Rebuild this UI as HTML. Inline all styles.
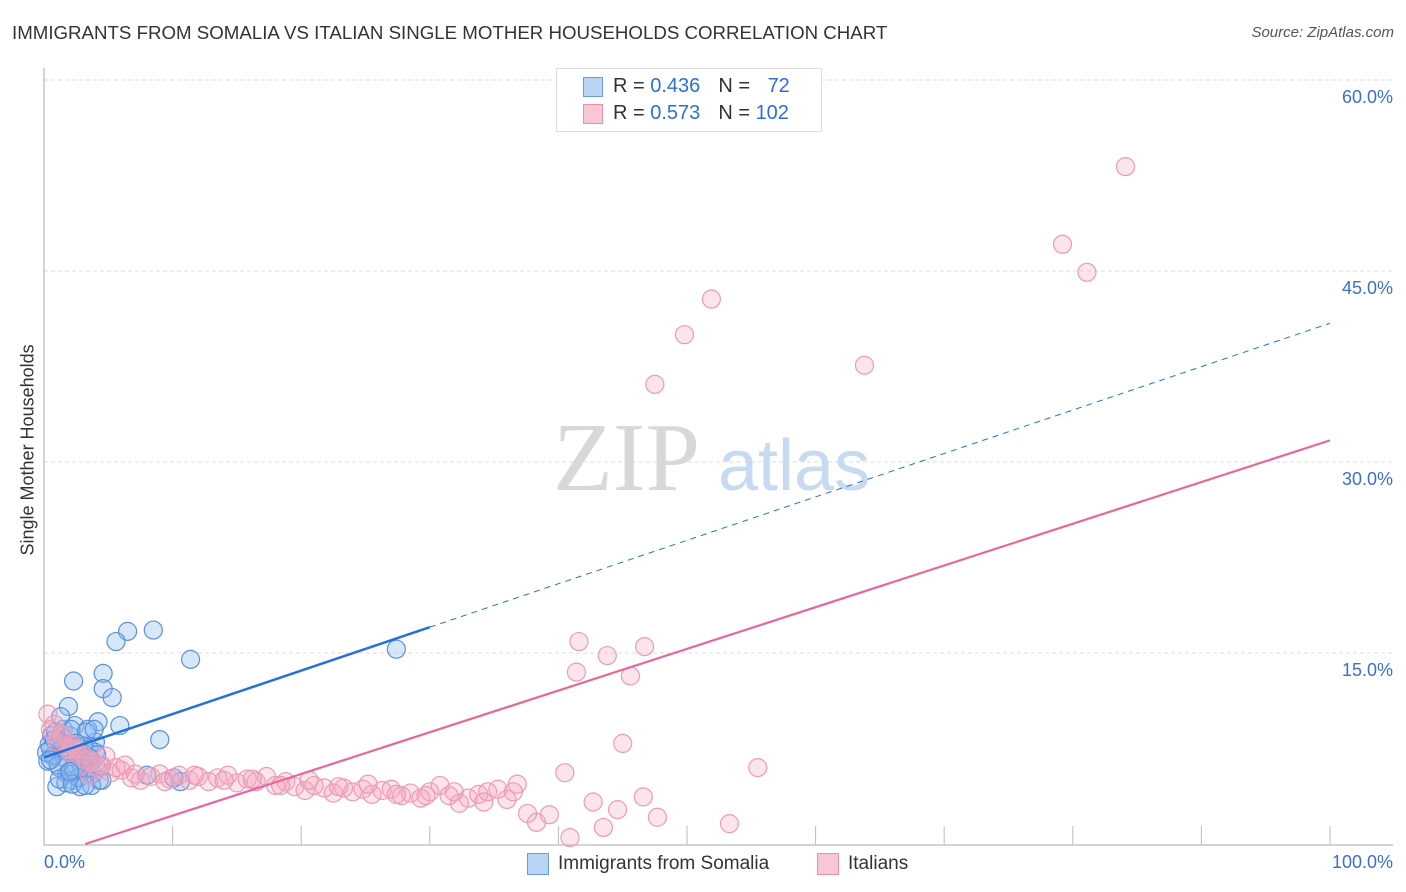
<!DOCTYPE html>
<html><head><meta charset="utf-8"><style>
body{margin:0;background:#fff;font-family:"Liberation Sans",sans-serif}
#wrap{position:relative;width:1406px;height:892px;overflow:hidden}
.t{position:absolute;white-space:nowrap}
</style></head><body>
<div id="wrap">
<div class="t" style="left:12px;top:22px;font-size:18.7px;color:#333">IMMIGRANTS FROM SOMALIA VS ITALIAN SINGLE MOTHER HOUSEHOLDS CORRELATION CHART</div>
<div class="t" style="right:12px;top:24px;font-size:15px;color:#555;font-style:italic">Source: ZipAtlas.com</div>
<svg id="svg" width="1406" height="892" style="position:absolute;left:0;top:0"></svg>
</div>
<script>
const yTicks=[15,30,45,60];
const xTicks=[0,10,20,30,40,50,60,70,80,90,100];
const blueX=[8.5,6.5,5.6,11.4,27.4,4.6,2.3,4.6,5.3,1.9,5.9,9.0,4.2,10.6,0.5,1,1.5,2,2.5,3,3.5,4,0.3,0.8,1.2,1.8,2.2,2.8,3.2,3.8,4.3,0.6,1.4,2.4,3.4,1.0,2.0,3.0,4.0,0.4,1.6,2.6,3.6,0.7,1.7,2.7,3.7,4.5,0.9,1.9,2.9,1.3,2.1,3.3,0.2,1.1,2.3,3.1,4.1,0.5,1.5,2.5,3.5,4.4,1.2,2.2,3.2,8.0,10.1,0.8,3.9,2.0];
const blueY=[16.8,16.7,15.9,14.5,15.3,13.4,12.8,12.2,11.5,10.8,9.3,8.2,9.6,4.9,7.5,8.0,9.0,8.5,7.0,6.5,7.5,8.0,6.5,7.0,6.0,5.5,5.0,4.5,6.0,5.5,5.0,8.5,7.5,9.3,9.0,4.5,5.5,6.5,7.2,7.8,6.8,7.6,6.3,6.9,4.8,5.2,4.6,5.0,8.8,7.3,6.0,10.0,9.0,8.8,7.2,6.2,5.8,7.7,7.0,6.6,7.9,7.9,6.8,6.1,5.1,4.7,4.6,5.4,5.2,8.2,9.0,5.7];
const pinkX=[84.1,79.2,81.1,51.9,49.8,47.5,63.8,41.6,46.7,43.8,41.4,45.6,45.0,55.5,40.5,42.7,46.6,44.6,43.5,47.7,53.3,37.6,38.3,40.9,39.3,0.3,0.8,1.5,2.2,3.0,3.8,4.5,5.2,6.0,6.8,7.5,8.3,9.0,9.8,10.5,11.3,12.0,12.8,13.5,14.3,15.0,15.8,16.5,17.3,18.0,18.8,19.5,20.3,21.0,21.8,22.5,23.3,24.0,24.8,25.5,26.3,27.0,27.8,28.5,29.3,30.0,30.8,31.5,32.3,33.0,33.8,34.5,35.3,36.0,36.8,1.0,2.0,3.3,4.1,5.6,1.8,2.7,3.5,6.3,7.1,9.4,11.7,14.0,16.2,18.4,20.6,22.9,25.2,27.4,29.7,31.9,34.2,0.5,1.3,2.5,4.8,36.5];
const pinkY=[53.2,47.1,44.9,42.8,40.0,36.1,37.6,15.9,15.5,14.8,13.5,13.2,7.9,6.0,5.6,3.3,3.7,2.7,1.3,2.1,1.6,2.4,1.7,0.5,2.3,10.2,9.4,8.5,7.8,7.0,6.5,6.2,5.6,5.8,5.2,5.0,5.3,5.5,5.1,5.4,5.0,5.3,4.9,5.2,5.4,4.8,5.1,4.9,5.3,4.6,4.9,4.5,4.2,4.6,4.4,4.0,4.4,4.1,4.3,3.9,4.2,4.3,3.8,4.0,3.6,4.1,4.6,3.8,3.2,3.6,3.9,4.1,4.3,3.5,4.7,8.0,7.2,6.6,6.0,6.0,7.6,7.0,5.4,6.2,5.5,4.9,5.4,5.0,5.1,4.6,5.0,4.5,4.7,3.9,3.8,4.1,3.3,9.0,8.6,7.4,6.9,4.1];
const blueLine=[6.8,40.9];
const pinkLine=[-1.05,31.7];
const X=v=>44+v*12.86, Y=v=>844-v*12.733;
const NS='http://www.w3.org/2000/svg', svg=document.getElementById('svg');
function mk(t,a,p){const e=document.createElementNS(NS,t);for(const k in a)e.setAttribute(k,a[k]);(p||svg).appendChild(e);return e;}
yTicks.forEach(v=>{
 const g=mk('line',{x1:44,x2:1393,y1:Y(v),y2:Y(v),stroke:'#ddd','stroke-dasharray':'4,3'});
 
 
 const t=mk('text',{x:1393,y:Y(v)+23,'text-anchor':'end','font-size':18,fill:'#3a6fd0','font-family':'Liberation Sans'});
 t.textContent=v.toFixed(1)+'%';
 
 
});
mk('line',{x1:44,x2:44,y1:68,y2:845,stroke:'#aaa'});
mk('line',{x1:44,x2:1393,y1:845,y2:845,stroke:'#aaa'});
xTicks.forEach(v=>{if(v>0){const l=mk('line',{x1:X(v),x2:X(v),y1:826,y2:845,stroke:'#bbb'});}});
const wm=mk('text',{x:553,y:490,'font-size':98,fill:'#d8d8d8','font-family':'Liberation Serif'});wm.textContent='ZIP';


const wm2=mk('text',{x:718,y:490,'font-size':72,fill:'#c8daf2','font-family':'Liberation Sans'});wm2.textContent='atlas';
blueX.forEach((x,i)=>{const c=mk('circle',{cx:X(x),cy:Y(blueY[i]),r:9,fill:'rgba(140,185,240,0.35)',stroke:'#5a8fdc','stroke-width':1.2});
 
 });
pinkX.forEach((x,i)=>{const c=mk('circle',{cx:X(x),cy:Y(pinkY[i]),r:9,fill:'rgba(245,165,190,0.3)',stroke:'#eb9bb6','stroke-width':1.2});
 
 });
const bl=(x)=>blueLine[0]+(blueLine[1]-blueLine[0])*x/100;
mk('line',{x1:X(0),y1:Y(bl(0)),x2:X(30),y2:Y(bl(30)),stroke:'#2272d9','stroke-width':2.5});
mk('line',{x1:X(30),y1:Y(bl(30)),x2:X(100),y2:Y(bl(100)),stroke:'#2272d9','stroke-width':1,'stroke-dasharray':'6,5'});
const pl=(x)=>pinkLine[0]+(pinkLine[1]-pinkLine[0])*x/100;
const x0=-pinkLine[0]/(pinkLine[1]-pinkLine[0])*100;
mk('line',{x1:X(x0),y1:Y(0),x2:X(100),y2:Y(pl(100)),stroke:'#e8669a','stroke-width':2.2});
</script>
<div class="t" style="left:44px;top:852px;font-size:18px;color:#3a6fd0">0.0%</div>
<div class="t" style="right:13px;top:852px;font-size:18px;color:#3a6fd0">100.0%</div>
<div class="t" style="left:-72px;top:445px;font-size:18px;color:#333;transform:rotate(-90deg);width:200px;text-align:center">Single Mother Households</div>
<div class="t" style="left:556px;top:68px;width:264px;height:62px;border:1px solid #ddd;background:#fff;font-size:20px;color:#333">
 <div style="position:absolute;left:26px;top:8px;width:18px;height:18px;background:#b9d3f5;border:1px solid #6a9be0"></div>
 <div style="position:absolute;left:56px;top:6px"><span>R = </span><span style="color:#2d6fd6">0.436</span><span style="margin-left:18px">N = </span><span style="color:#2d6fd6;margin-left:12px">72</span></div>
 <div style="position:absolute;left:26px;top:35px;width:18px;height:18px;background:#f9c6d6;border:1px solid #e98fae"></div>
 <div style="position:absolute;left:56px;top:33px"><span>R = </span><span style="color:#2d6fd6">0.573</span><span style="margin-left:18px">N = </span><span style="color:#2d6fd6">102</span></div>
</div>
<div class="t" style="left:527px;top:853px;width:20px;height:20px;background:#b9d3f5;border:1px solid #6a9be0"></div>
<div class="t" style="left:558px;top:853px;font-size:19px;color:#333">Immigrants from Somalia</div>
<div class="t" style="left:817px;top:853px;width:20px;height:20px;background:#f9c6d6;border:1px solid #e98fae"></div>
<div class="t" style="left:848px;top:853px;font-size:19px;color:#333">Italians</div>
</body></html>
